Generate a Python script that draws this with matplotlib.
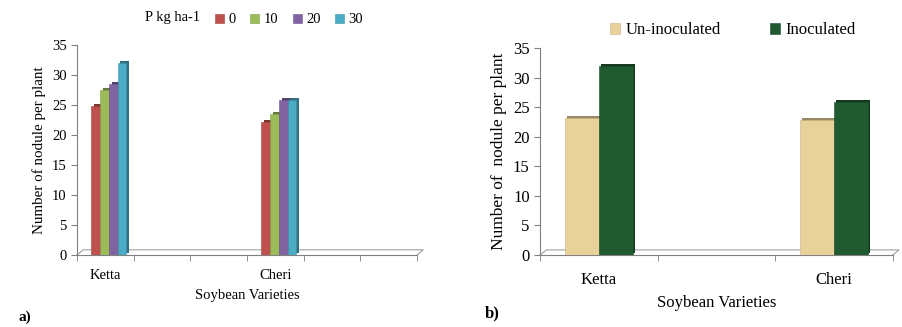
import matplotlib.pyplot as plt
import matplotlib.colors as mcolors
import numpy as np

plt.rcParams['font.family'] = ['Liberation Serif', 'DejaVu Serif']

# panel a) data
varieties_a = ['Ketta', '', '', 'Cheri', '', '']
p_levels = ['0', '10', '20', '30']
p_colors = ['#C0504D', '#9BBB59', '#8064A2', '#4BACC6']
nodules_p = {
    '0':  [24.8, None, None, 22.2, None, None],
    '10': [27.5, None, None, 23.5, None, None],
    '20': [28.5, None, None, 25.8, None, None],
    '30': [32.0, None, None, 25.8, None, None],
}

# panel b) data
varieties_b = ['Ketta', '', 'Cheri']
inoc_labels = ['Un-inoculated', 'Inoculated']
inoc_colors = ['#E9D29A', '#1F5A30']
nodules_inoc = {
    'Un-inoculated': [23.2, None, 22.8],
    'Inoculated':    [32.0, None, 25.9],
}

fig = plt.figure(figsize=(9.02, 3.27), dpi=100)
ax1 = fig.add_axes([0.0854, 0.220, 0.377, 0.642])
ax2 = fig.add_axes([0.5987, 0.220, 0.391, 0.633])


def darker(c, f=0.65):
    r, g, b = mcolors.to_rgb(c)
    return (r * f, g * f, b * f)


def bars3d(ax, xs, vals, w, color, dx, dy, label):
    xs = [x for x, v in zip(xs, vals) if v is not None]
    vs = [v for v in vals if v is not None]
    # side/top shade drawn behind the front face
    ax.bar(np.array(xs) + dx, vs, w, bottom=dy, color=darker(color), zorder=2)
    ax.bar(xs, vs, w, color=color, label=label, zorder=3,
           edgecolor=darker(color, 0.85), linewidth=0.4)


def style(ax, ncat, fs, pad):
    ax.set_xlim(-0.5, ncat - 0.5)
    ax.set_ylim(0, 35)
    ax.set_yticks(range(0, 36, 5))
    ax.set_xticks(range(ncat))
    ax.set_xticks(np.arange(-0.5, ncat, 1), minor=True)
    ax.tick_params(axis='x', which='major', length=0, pad=pad, labelsize=fs)
    ax.tick_params(axis='x', which='minor', length=4, color='#808080')
    ax.tick_params(axis='y', length=4, color='#808080', labelsize=fs)
    for s in ['top', 'right']:
        ax.spines[s].set_visible(False)
    for s in ['left', 'bottom']:
        ax.spines[s].set_color('#808080')
    # floor of the 3D plot
    t = ax.transAxes
    ax.plot([0, 0.018, 1.018, 1.0], [0, 0.025, 0.025, 0], transform=t,
            color='#A0A0A0', lw=0.8, clip_on=False, zorder=1)


# ---- panel a
w = 0.155
x = np.arange(len(varieties_a))
for i, p in enumerate(p_levels):
    bars3d(ax1, x + 0.06 + (i - 1.5) * w, nodules_p[p], w, p_colors[i],
           0.05, 0.35, p)
style(ax1, len(varieties_a), 10.5, 10)
ax1.set_xticklabels(varieties_a)
ax1.set_ylabel('Number of nodule per plant', fontsize=10.8, labelpad=4)
ax1.set_xlabel('Soybean Varieties', fontsize=10.5, labelpad=5)
fig.text(0.161, 0.945, 'P kg ha-1', fontsize=10.5, va='center', ha='left')
ax1.legend(loc='center left', bbox_to_anchor=(0.39, 1.12), ncol=4,
           frameon=False, fontsize=10.5, handlelength=0.6, handleheight=0.6,
           handletextpad=0.3, columnspacing=1.0, borderaxespad=0)
fig.text(0.02, 0.02, 'a)', fontsize=11, fontweight='bold')

# ---- panel b
w2 = 0.29
x2 = np.arange(len(varieties_b))
for i, lab in enumerate(inoc_labels):
    bars3d(ax2, x2 + (i - 0.5) * w2, nodules_inoc[lab], w2, inoc_colors[i],
           0.02, 0.3, lab)
style(ax2, len(varieties_b), 12, 12)
ax2.set_xticklabels(varieties_b)
ax2.set_ylabel('Number of  nodule per plant', fontsize=12.5, labelpad=4)
ax2.set_xlabel('Soybean Varieties', fontsize=12, labelpad=5)
ax2.legend(loc='center left', bbox_to_anchor=(0.18, 1.085), ncol=2,
           frameon=False, fontsize=12, handlelength=0.6, handleheight=0.6,
           handletextpad=0.3, columnspacing=3.0, borderaxespad=0)
fig.text(0.538, 0.03, 'b)', fontsize=12, fontweight='bold')

fig.savefig('out.png', dpi=100)
